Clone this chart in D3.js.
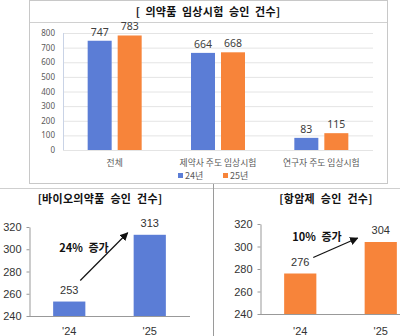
<!DOCTYPE html>
<html><head><meta charset="utf-8">
<script src="https://cdn.jsdelivr.net/npm/d3@7"></script>
<style>
body{margin:0;background:#fff;}
svg{display:block;font-family:"Noto Sans CJK KR","Noto Sans",sans-serif;}
</style></head>
<body><svg id="c" width="400" height="336"></svg>
<script>
// ---- data ----
const topTitle = "[ 의약품 임상시험 승인 건수]";
const topCategories = ["전체", "제약사 주도 임상시험", "연구자 주도 임상시험"];
const topSeries = ["24년", "25년"];
const values24 = [747, 664, 83];
const values25 = [783, 668, 115];
const topTicks = [0, 100, 200, 300, 400, 500, 600, 700, 800];

const bioTitle = "[바이오의약품 승인 건수]";
const bioYears = ["'24", "'25"];
const bioValues = [253, 313];
const bioNote = "24% 증가";

const oncTitle = "[항암제 승인 건수]";
const oncYears = ["'24", "'25"];
const oncValues = [276, 304];
const oncNote = "10% 증가";

const smallTicks = [240, 260, 280, 300, 320];

const BLUE = "#5b7dd6", ORANGE = "#f7843a";

const svg = d3.select("#c");
svg.append("defs").append("marker")
  .attr("id","ah").attr("viewBox","0 0 10 10").attr("refX",9).attr("refY",5)
  .attr("markerWidth",7).attr("markerHeight",7).attr("orient","auto")
  .append("path").attr("d","M0,0L10,5L0,10z").attr("fill","#111");

// ---- frames ----
svg.append("rect").attr("x",29.5).attr("y",0.5).attr("width",358).attr("height",183)
  .attr("fill","none").attr("stroke","#c8c8c8");
svg.append("line").attr("x1",30).attr("x2",387).attr("y1",22.5).attr("y2",22.5).attr("stroke","#d0d0d0");
svg.append("line").attr("x1",0).attr("x2",400).attr("y1",188.5).attr("y2",188.5).attr("stroke","#cfcfcf");
svg.append("line").attr("x1",213.5).attr("x2",213.5).attr("y1",184).attr("y2",336).attr("stroke","#9a9a9a");

// ---- top chart ----
svg.append("text").attr("x",208).attr("y",16).attr("text-anchor","middle")
  .attr("font-size",11).attr("font-weight","bold").attr("fill","#111")
  .attr("word-spacing",2.5).attr("letter-spacing",0.3).text(topTitle);

const x0 = d3.scaleBand().domain(topCategories).range([63, 373]).padding(0);
const x1 = d3.scaleBand().domain(topSeries).range([0, 54]).paddingInner(0.2);
const yT = d3.scaleLinear().domain([0, 800]).range([150, 33]);

const gT = svg.append("g");
gT.selectAll("line.grid").data(topTicks).join("line")
  .attr("x1",63).attr("x2",373).attr("y1",d=>yT(d)+0.5).attr("y2",d=>yT(d)+0.5)
  .attr("stroke","#e4e4e4");
gT.append("line").attr("x1",63.5).attr("x2",63.5).attr("y1",yT(800)).attr("y2",yT(0))
  .attr("stroke","#c9d3e6");
const yAxisT = d3.axisLeft(yT).tickValues(topTicks).tickSize(0).tickPadding(8);
const ga = gT.append("g").attr("transform","translate(63,0)").call(yAxisT);
ga.select(".domain").remove();
ga.selectAll("text").attr("font-size",8).attr("fill","#595959")
  .attr("font-family","'Noto Sans','DejaVu Sans',sans-serif");

const rows = topCategories.map((c,i)=>({c, v:[values24[i], values25[i]]}));
const off = (x0.bandwidth()-54)/2;
const grp = gT.selectAll("g.grp").data(rows).join("g")
  .attr("transform",d=>`translate(${x0(d.c)+off},0)`);
grp.selectAll("rect").data(d=>d.v.map((v,j)=>({s:topSeries[j],v}))).join("rect")
  .attr("x",d=>x1(d.s)).attr("width",x1.bandwidth())
  .attr("y",d=>yT(d.v)).attr("height",d=>yT(0)-yT(d.v))
  .attr("fill",d=>d.s===topSeries[0]?BLUE:ORANGE);
grp.selectAll("text").data(d=>d.v.map((v,j)=>({s:topSeries[j],v}))).join("text")
  .attr("x",d=>x1(d.s)+x1.bandwidth()/2).attr("y",d=>yT(d.v)-5)
  .attr("text-anchor","middle").attr("font-size",10.5).attr("fill","#404040")
  .attr("font-family","'Noto Sans','DejaVu Sans',sans-serif").text(d=>d.v);

gT.selectAll("text.cat").data(topCategories).join("text").attr("class","cat")
  .attr("x",d=>x0(d)+x0.bandwidth()/2).attr("y",166).attr("text-anchor","middle")
  .attr("font-size",8.8).attr("fill","#595959").text(d=>d);

const lg = gT.selectAll("g.lg").data(topSeries).join("g").attr("class","lg")
  .attr("transform",(d,i)=>`translate(${178+i*45},178)`);
lg.append("rect").attr("x",0).attr("y",-5).attr("width",5).attr("height",5)
  .attr("fill",(d,i)=>i===0?BLUE:ORANGE);
lg.append("text").attr("x",7).attr("y",1).attr("font-size",9).attr("fill","#595959").text(d=>d);

// ---- small charts ----
function small(opts){
  const {title, titleX, years, vals, color, axisX, yTop, yBot, note, noteX, noteY, arrow} = opts;
  const g = svg.append("g");
  g.append("text").attr("x",titleX).attr("y",203).attr("text-anchor","middle")
    .attr("font-size",11).attr("font-weight","bold").attr("fill","#111")
    .attr("word-spacing",3).attr("letter-spacing",0.3).text(title);
  const y = d3.scaleLinear().domain([240,320]).range([yBot, yTop]);
  const x = d3.scaleBand().domain(years).range([axisX, axisX+161]).paddingInner(0.6).paddingOuter(0.3);
  const ay = g.append("g").attr("transform",`translate(${axisX+0.5},0)`)
    .call(d3.axisLeft(y).tickValues(smallTicks).tickSize(3).tickSizeOuter(0).tickPadding(5));
  ay.select(".domain").attr("stroke","#999");
  ay.selectAll(".tick line").attr("stroke","#999");
  ay.selectAll("text").attr("font-size",11).attr("fill","#333")
    .attr("font-family","'Liberation Sans',Arial,sans-serif");
  g.selectAll("rect").data(vals).join("rect")
    .attr("x",(d,i)=>x(years[i])).attr("width",x.bandwidth())
    .attr("y",d=>y(d)).attr("height",d=>yBot-y(d)).attr("fill",color);
  g.append("line").attr("x1",axisX).attr("x2",axisX+161).attr("y1",yBot+0.5).attr("y2",yBot+0.5)
    .attr("stroke","#999");
  g.selectAll("text.val").data(vals).join("text").attr("class","val")
    .attr("x",(d,i)=>x(years[i])+x.bandwidth()/2).attr("y",d=>y(d)-8)
    .attr("text-anchor","middle").attr("font-size",11).attr("fill","#333")
    .attr("font-family","'Liberation Sans',Arial,sans-serif").text(d=>d);
  g.selectAll("text.yr").data(years).join("text").attr("class","yr")
    .attr("x",d=>x(d)+x.bandwidth()/2).attr("y",335)
    .attr("text-anchor","middle").attr("font-size",11).attr("fill","#333")
    .attr("font-family","'Liberation Sans',Arial,sans-serif").text(d=>d);
  const [sdx, sdy, edx, edy] = arrow;
  g.append("line")
    .attr("x1",x(years[0])+x.bandwidth()/2+sdx).attr("y1",y(vals[0])+sdy)
    .attr("x2",x(years[1])+edx).attr("y2",y(vals[1])+edy)
    .attr("stroke","#111").attr("stroke-width",1.2).attr("marker-end","url(#ah)");
  g.append("text").attr("x",noteX).attr("y",noteY).attr("text-anchor","middle")
    .attr("font-size",11).attr("font-weight","bold").attr("fill","#111")
    .attr("word-spacing",3).text(note);
}

small({title:bioTitle, titleX:100, years:bioYears, vals:bioValues, color:BLUE,
  axisX:29, yTop:227, yBot:316, note:bioNote, noteX:84, noteY:252, arrow:[11,-21,-6,-2]});
small({title:oncTitle, titleX:326, years:oncYears, vals:oncValues, color:ORANGE,
  axisX:260, yTop:224, yBot:314, note:oncNote, noteX:317, noteY:241, arrow:[13,-16,-7,-4]});
</script></body></html>
